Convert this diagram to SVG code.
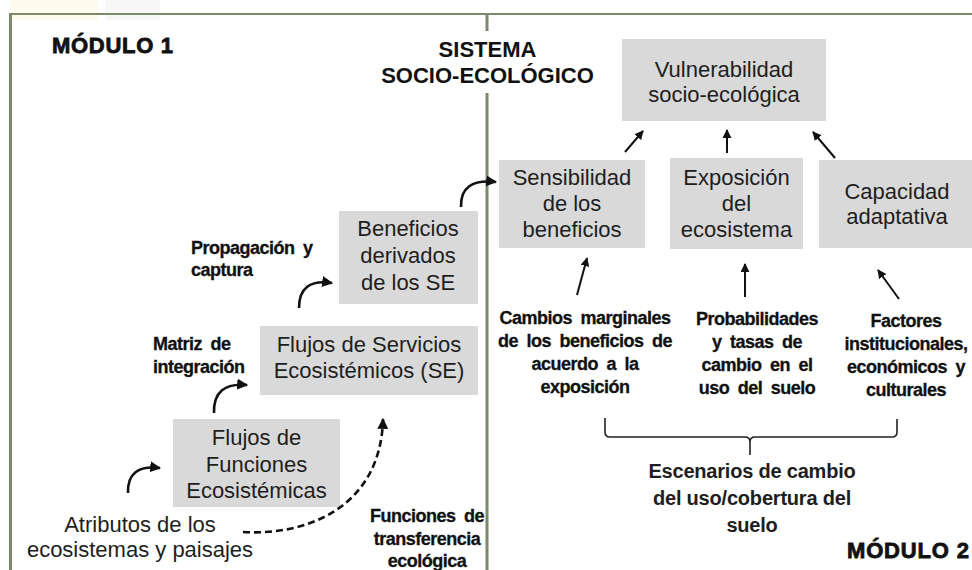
<svg xmlns="http://www.w3.org/2000/svg" width="972" height="570" viewBox="0 0 972 570">
<defs>
<marker id="ah" viewBox="0 0 10 10" refX="9" refY="5" markerWidth="9" markerHeight="9" markerUnits="userSpaceOnUse" orient="auto"><path d="M0,0 L10,5 L0,10 z" fill="#111"/></marker>
<marker id="ahc" viewBox="0 0 10 10" refX="9" refY="5" markerWidth="11" markerHeight="11" markerUnits="userSpaceOnUse" orient="auto"><path d="M0,0 L10,5 L0,10 z" fill="#111"/></marker>
<style>
.box{fill:#d9d9d9}
.t{font-family:"Liberation Sans",Arial,sans-serif;font-size:22px;fill:#1e1e1e;text-anchor:middle}
.b{font-family:"Liberation Sans",Arial,sans-serif;font-size:18px;font-weight:bold;fill:#111;stroke:#111;stroke-width:0.3;letter-spacing:-0.5px;word-spacing:4px}
.bc{text-anchor:middle}
.h{font-family:"Liberation Sans",Arial,sans-serif;font-size:22px;font-weight:bold;fill:#111}
.hh{stroke:#111;stroke-width:0.8}
.frame{stroke:#7b8a6b;fill:none}
.arr{stroke:#111;stroke-width:2;fill:none;marker-end:url(#ah)}
.carr{stroke:#111;stroke-width:2.6;fill:none;marker-end:url(#ahc)}
</style>
</defs>
<rect width="972" height="570" fill="#fff"/>
<rect x="10" y="0" width="88" height="20" fill="#fdf6e2" opacity="0.6"/>
<rect x="105" y="0" width="55" height="20" fill="#f2f2f2" opacity="0.6"/>
<g id="frame">
<line class="frame" x1="10" y1="14" x2="972" y2="14" stroke-width="2.2"/>
<line class="frame" x1="10.5" y1="13" x2="10.5" y2="570" stroke-width="3"/>
<line class="frame" x1="487" y1="14" x2="487" y2="31" stroke-width="3"/>
<line class="frame" x1="487" y1="93" x2="487" y2="570" stroke-width="3"/>
</g>
<g id="titles">
<text class="h hh" x="52" y="53" textLength="121" lengthAdjust="spacing">MÓDULO 1</text>
<text class="h" x="487.5" y="57" text-anchor="middle">SISTEMA</text>
<text class="h" x="487.5" y="83" text-anchor="middle">SOCIO-ECOLÓGICO</text>
<text class="h hh" x="847" y="558" textLength="122" lengthAdjust="spacing">MÓDULO 2</text>
</g>
<g id="vulnerabilidad">
<rect class="box" x="622" y="39" width="204" height="82"/>
<text class="t" x="724" y="77">Vulnerabilidad</text>
<text class="t" x="724" y="102">socio-ecológica</text>
</g>
<g id="sensibilidad">
<rect class="box" x="499" y="160" width="146" height="88"/>
<text class="t" x="572" y="185">Sensibilidad</text>
<text class="t" x="572" y="211">de los</text>
<text class="t" x="572" y="237">beneficios</text>
</g>
<g id="exposicion">
<rect class="box" x="670" y="158" width="133" height="91"/>
<text class="t" x="736.5" y="185">Exposición</text>
<text class="t" x="736.5" y="211">del</text>
<text class="t" x="736.5" y="237">ecosistema</text>
</g>
<g id="capacidad">
<rect class="box" x="819" y="160" width="153" height="88"/>
<text class="t" x="897" y="199">Capacidad</text>
<text class="t" x="897" y="224">adaptativa</text>
</g>
<g id="beneficios">
<rect class="box" x="339" y="211" width="139" height="93"/>
<text class="t" x="408" y="236">Beneficios</text>
<text class="t" x="408" y="263">derivados</text>
<text class="t" x="408" y="290">de los SE</text>
</g>
<g id="flujos-servicios">
<rect class="box" x="260" y="326" width="218" height="69"/>
<text class="t" x="369" y="352">Flujos de Servicios</text>
<text class="t" x="369" y="378">Ecosistémicos (SE)</text>
</g>
<g id="flujos-funciones">
<rect class="box" x="173" y="419" width="167" height="88"/>
<text class="t" x="256.5" y="445">Flujos de</text>
<text class="t" x="256.5" y="472">Funciones</text>
<text class="t" x="256.5" y="498">Ecosistémicas</text>
</g>
<g id="atributos">
<text class="t" x="140" y="532">Atributos de los</text>
<text class="t" x="140" y="557">ecosistemas y paisajes</text>
</g>
<g id="labels-modulo1">
<text class="b" x="191" y="254">Propagación y</text>
<text class="b" x="191" y="276">captura</text>
<text class="b" x="153" y="350">Matriz de</text>
<text class="b" x="153" y="373">integración</text>
<text class="b bc" x="427" y="522">Funciones de</text>
<text class="b bc" x="427" y="545">transferencia</text>
<text class="b bc" x="427" y="567">ecológica</text>
</g>
<g id="labels-modulo2">
<text class="b bc" x="585" y="324">Cambios marginales</text>
<text class="b bc" x="585" y="347">de los beneficios de</text>
<text class="b bc" x="585" y="370">acuerdo a la</text>
<text class="b bc" x="585" y="393">exposición</text>
<text class="b bc" x="757" y="325">Probabilidades</text>
<text class="b bc" x="757" y="348">y tasas de</text>
<text class="b bc" x="757" y="371">cambio en el</text>
<text class="b bc" x="757" y="394">uso del suelo</text>
<text class="b bc" x="906" y="327">Factores</text>
<text class="b bc" x="906" y="350">institucionales,</text>
<text class="b bc" x="906" y="373">económicos y</text>
<text class="b bc" x="906" y="396">culturales</text>
</g>
<g id="escenarios">
<path d="M605,418 L605,432 Q605,437 610,437 L745,437 Q750,437 750,442 L750,455 M750,442 Q750,437 755,437 L892,437 Q897,437 897,432 L897,419" stroke="#222" stroke-width="1.6" fill="none"/>
<text class="t" x="752" y="478" style="font-size:20px;font-weight:bold;letter-spacing:-0.2px">Escenarios de cambio</text>
<text class="t" x="752" y="505" style="font-size:20px;font-weight:bold;letter-spacing:-0.2px">del uso/cobertura del</text>
<text class="t" x="752" y="532" style="font-size:20px;font-weight:bold;letter-spacing:-0.2px">suelo</text>
</g>
<g id="connectors">
<line class="arr" x1="625" y1="152" x2="643" y2="131"/>
<line class="arr" x1="727" y1="153" x2="727" y2="130"/>
<line class="arr" x1="835" y1="158" x2="813" y2="132"/>
<line class="arr" x1="577" y1="295" x2="587" y2="258"/>
<line class="arr" x1="745" y1="297" x2="745" y2="264"/>
<line class="arr" x1="899" y1="299" x2="878" y2="270"/>
<path class="carr" d="M128,493 Q127,464 160,468"/>
<path class="carr" d="M214,413 Q213,382 247,385"/>
<path class="carr" d="M299,308 Q299,278 332,283"/>
<path class="carr" d="M461,207 Q460,178 496,182"/>
<path class="carr" d="M243,532 C310,536 381,505 383,419" stroke-dasharray="7,4"/>
</g>
</svg>
